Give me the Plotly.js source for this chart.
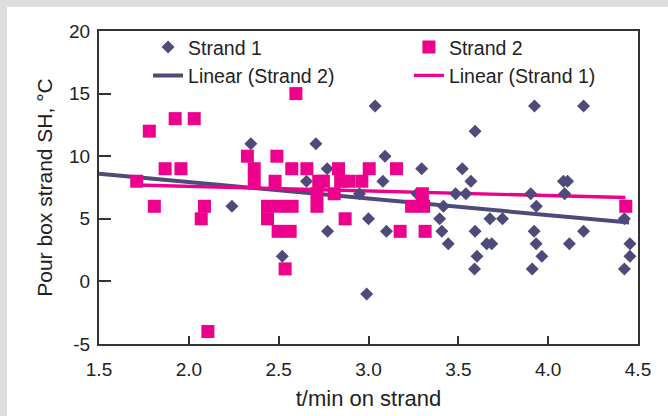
<!DOCTYPE html>
<html>
<head>
<meta charset="utf-8">
<script src="https://cdn.plot.ly/plotly-3.0.1.min.js"></script>
<style>
  html, body { margin: 0; padding: 0; background: #dcdddf; width: 668px; height: 416px; overflow: hidden; }
  #panel { position: absolute; left: 7px; top: 7px; width: 661px; height: 409px; background: #ffffff; }
  #chart { position: absolute; left: 0; top: 0; width: 668px; height: 416px; }
</style>
</head>
<body>
<div id="panel"></div>
<div id="chart"></div>
<script>
// Strand 1 (diamonds)
var strand1X = [2.24, 2.345, 2.52, 2.655, 2.707, 2.77, 2.772, 2.95, 2.99, 3.0, 3.037, 3.092, 3.08, 3.1,
  3.296, 3.27, 3.417, 3.396, 3.408, 3.444, 3.485, 3.522, 3.542, 3.57, 3.593, 3.593, 3.604, 3.59,
  3.658, 3.676, 3.686, 3.746, 3.903, 3.924, 3.934, 3.922, 3.933, 3.911, 3.965, 4.085, 4.108, 4.092,
  4.118, 4.197, 4.197, 4.424, 4.455, 4.455, 4.424];
var strand1Y = [6, 11, 2, 8, 11, 9, 4, 7, -1, 5, 14, 10, 8, 4,
  9, 7, 6, 5, 4, 3, 7, 9, 7, 8, 12, 4, 2, 1,
  3, 5, 3, 5, 7, 14, 6, 4, 3, 1, 2, 8, 8, 7,
  3, 14, 4, 5, 3, 2, 1];

// Strand 2 (squares)
var strand2X = [1.71, 1.78, 1.808, 1.868, 1.924, 1.956, 2.03, 2.069, 2.087, 2.106, 2.326, 2.364, 2.364,
  2.438, 2.438, 2.49, 2.48, 2.507, 2.575, 2.497, 2.564, 2.536, 2.573, 2.596, 2.657, 2.713, 2.713,
  2.723, 2.749, 2.809, 2.833, 2.845, 2.89, 2.963, 2.87, 3.004, 3.156, 3.176, 3.24, 3.307, 3.30,
  3.315, 4.432];
var strand2Y = [8, 12, 6, 9, 13, 9, 13, 5, 6, -4, 10, 9, 8,
  6, 5, 10, 8, 6, 6, 4, 4, 1, 9, 15, 9, 7, 6,
  8, 8, 7, 9, 8, 8, 8, 5, 9, 9, 4, 6, 6, 7,
  4, 6];

// Trend lines as drawn in the figure
var trendNavyX = [1.5, 4.45];
var trendNavyY = [8.6, 4.7];
var trendPinkX = [1.71, 4.43];
var trendPinkY = [7.7, 6.7];

var xTickVals = [1.5, 2.0, 2.5, 3.0, 3.5, 4.0, 4.5];
var xTickText = ['1.5', '2.0', '2.5', '3.0', '3.5', '4.0', '4.5'];
var yTickVals = [-5, 0, 5, 10, 15, 20];
var yTickText = ['-5', '0', '5', '10', '15', '20'];

var NAVY = '#4e4a7a';
var PINK = '#ec008c';
var FONT = 'Liberation Sans, Arial, sans-serif';

var traces = [
  { x: trendNavyX, y: trendNavyY, mode: 'lines', name: 'Linear (Strand 2)',
    line: { color: NAVY, width: 4 }, legend: 'legend', legendrank: 2, hoverinfo: 'skip' },
  { x: trendPinkX, y: trendPinkY, mode: 'lines', name: 'Linear (Strand 1)',
    line: { color: PINK, width: 3.3 }, legend: 'legend2', legendrank: 2, hoverinfo: 'skip' },
  { x: strand1X, y: strand1Y, mode: 'markers', name: 'Strand 1', type: 'scatter',
    marker: { symbol: 'diamond', size: 10, color: NAVY }, legend: 'legend', legendrank: 1 },
  { x: strand2X, y: strand2Y, mode: 'markers', name: 'Strand 2', type: 'scatter',
    marker: { symbol: 'square', size: 13, color: PINK }, legend: 'legend2', legendrank: 1 }
];

var axisCommon = {
  showline: true, linecolor: '#333333', linewidth: 2, mirror: true,
  showgrid: false, zeroline: false, ticks: 'inside', tickcolor: '#333333', tickwidth: 2,
  tickfont: { family: FONT, size: 19, color: '#222222' }, tickmode: 'array'
};

var layout = {
  width: 668, height: 416,
  margin: { l: 99, r: 30, t: 31, b: 72 },
  paper_bgcolor: 'rgba(0,0,0,0)', plot_bgcolor: '#ffffff',
  font: { family: FONT, color: '#222222' },
  showlegend: true,
  xaxis: Object.assign({}, axisCommon, {
    range: [1.5, 4.5], tickvals: xTickVals, ticktext: xTickText, ticklen: 8,
    ticklabelstandoff: 7,
    title: { text: 't/min on strand', font: { family: FONT, size: 22, color: '#222222' }, standoff: 12 }
  }),
  yaxis: Object.assign({}, axisCommon, {
    range: [-5, 20], tickvals: yTickVals, ticktext: yTickText, ticklen: 12,
    ticklabelstandoff: 3,
    title: { text: 'Pour box strand SH, °C', font: { family: FONT, size: 21, color: '#222222' }, standoff: 11 }
  }),
  legend: { x: 0.091, y: 1.01, xanchor: 'left', yanchor: 'top', bgcolor: 'rgba(0,0,0,0)',
    font: { family: FONT, size: 19.5, color: '#222222' }, tracegroupgap: 0, traceorder: 'normal' },
  legend2: { x: 0.575, y: 1.01, xanchor: 'left', yanchor: 'top', bgcolor: 'rgba(0,0,0,0)',
    font: { family: FONT, size: 19.5, color: '#222222' }, tracegroupgap: 0, traceorder: 'normal' }
};

Plotly.newPlot('chart', traces, layout, { displayModeBar: false, staticPlot: true });
</script>
</body>
</html>
